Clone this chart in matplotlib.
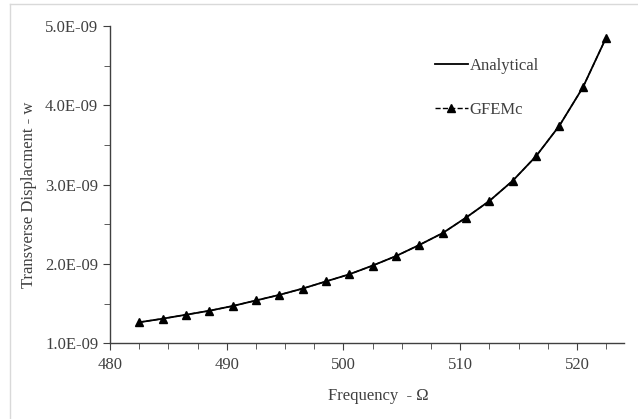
import matplotlib
matplotlib.use("Agg")
import matplotlib.pyplot as plt
from matplotlib.lines import Line2D
from matplotlib.ticker import MultipleLocator, FuncFormatter

# frequency (Omega) and transverse displacement w
freq = [482.5, 484.5, 486.5, 488.5, 490.5, 492.5, 494.5, 496.5, 498.5, 500.5,
        502.5, 504.5, 506.5, 508.5, 510.5, 512.5, 514.5, 516.5, 518.5, 520.5, 522.5]
w_analytical = [1.265e-9, 1.31e-9, 1.36e-9, 1.41e-9, 1.47e-9, 1.54e-9, 1.61e-9,
                1.69e-9, 1.78e-9, 1.87e-9, 1.98e-9, 2.10e-9, 2.24e-9, 2.39e-9,
                2.585e-9, 2.795e-9, 3.05e-9, 3.36e-9, 3.745e-9, 4.225e-9, 4.855e-9]
w_gfemc = w_analytical

plt.rcParams['font.family'] = ['Liberation Serif', 'DejaVu Serif']
plt.rcParams['font.size'] = 12

fig = plt.figure(figsize=(6.38, 4.19), dpi=100)
ax = fig.add_axes([110/638, 1 - 343.3/419, (623.7-110)/638, (343.3-26)/419])

ax.plot(freq, w_analytical, color='black', lw=1.3, label='Analytical')
ax.plot(freq, w_gfemc, color='black', lw=1.0, ls='--', marker='^', markersize=5.5,
        label='GFEMc')

ax.set_xlim(480, 524)
ax.set_ylim(1.0e-9, 5.0e-9)
ax.xaxis.set_major_locator(MultipleLocator(10))
ax.xaxis.set_minor_locator(MultipleLocator(2.5))
ax.yaxis.set_major_locator(MultipleLocator(1e-9))
ax.yaxis.set_minor_locator(MultipleLocator(0.5e-9))
ax.yaxis.set_major_formatter(FuncFormatter(lambda v, p: f"{v*1e9:.1f}E-09"))

for s in ['top', 'right']:
    ax.spines[s].set_visible(False)
for s in ['left', 'bottom']:
    ax.spines[s].set_color('#404040')
    ax.spines[s].set_linewidth(1.0)
ax.tick_params(which='major', direction='out', length=5, color='#404040',
               labelcolor='#404040', labelsize=12)
ax.tick_params(which='minor', direction='out', length=4, color='#404040')
ax.tick_params(axis='x', pad=5)

ax.set_xlabel('Frequency  - \u03a9', color='#404040')
ax.set_ylabel('Transverse Displacment - w', color='#404040')
ax.xaxis.set_label_coords(0.522, -0.141)
ax.yaxis.set_label_coords(-0.143, 0.467)

ax.legend(loc='upper left', bbox_to_anchor=(0.603, 0.947), frameon=False,
          labelspacing=1.68, handlelength=2.0, handletextpad=0.1,
          fontsize=12, labelcolor='#404040')

# light gray chart-area border
fig.add_artist(Line2D([10/638, 1], [1 - 4/419, 1 - 4/419], color='#d9d9d9', lw=1))
fig.add_artist(Line2D([10/638, 10/638], [0, 1 - 4/419], color='#d9d9d9', lw=1))

fig.savefig('out.png', dpi=100)
